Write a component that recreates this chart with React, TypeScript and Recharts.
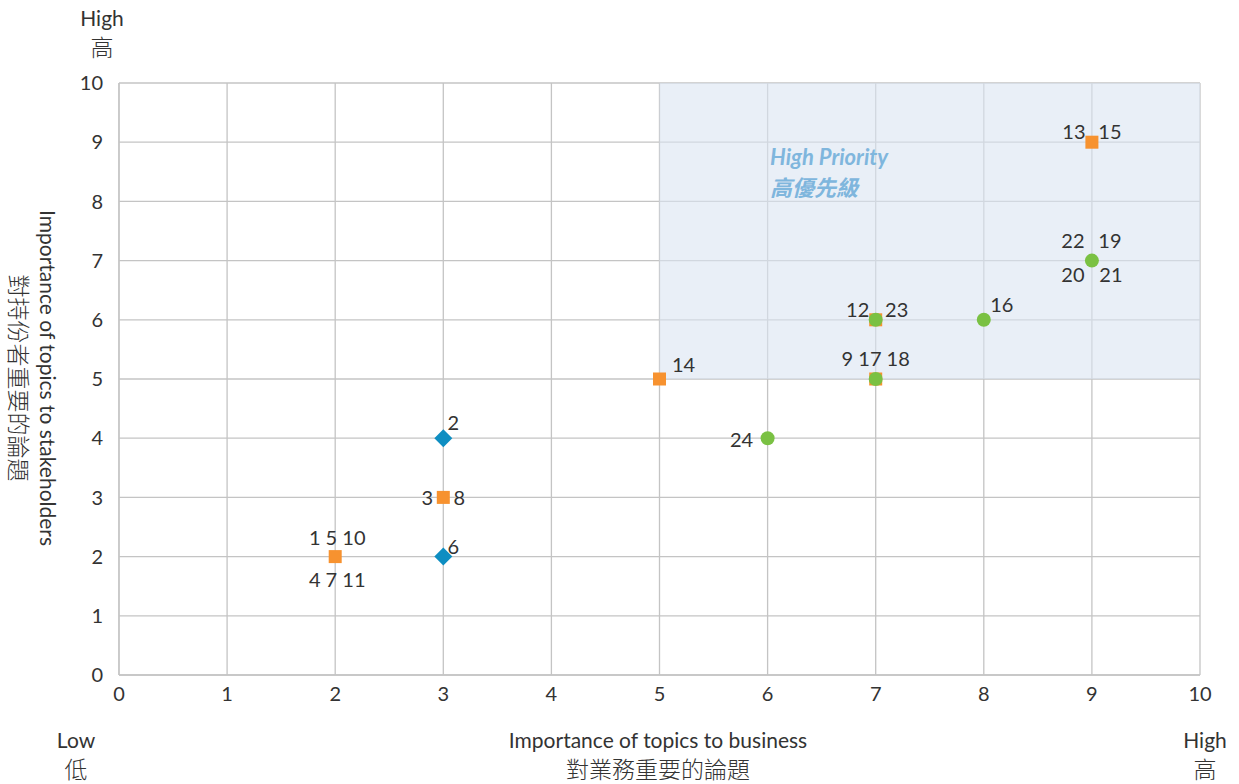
import React from 'react';
import {
  ScatterChart,
  Scatter,
  XAxis,
  YAxis,
  CartesianGrid,
  ReferenceArea,
} from 'recharts';

// axis ticks
const xTicks = [0, 1, 2, 3, 4, 5, 6, 7, 8, 9, 10];
const yTicks = [0, 1, 2, 3, 4, 5, 6, 7, 8, 9, 10];

// blue diamonds
const blueX = [3, 3];
const blueY = [4, 2];
const blueLabels = [['2'], ['6']];

// orange squares
const orangeX = [2, 3, 5, 9, 7, 7];
const orangeY = [2, 3, 5, 9, 6, 5];
const orangeLabels = [['1 5 10', '4 7 11'], ['3', '8'], ['14'], ['13', '15'], [], []];

// green circles
const greenX = [6, 7, 7, 8, 9];
const greenY = [4, 5, 6, 6, 7];
const greenLabels = [['24'], ['9 17 18'], ['12', '23'], ['16'], ['22', '19', '20', '21']];

// high priority zone
const zoneX = [5, 10];
const zoneY = [5, 10];

// where each label sits relative to its marker (center offsets)
const labelOffset: Record<string, [number, number]> = {
  '2': [10, -16],
  '6': [10, -11],
  '3': [-16, 0],
  '8': [16, 0],
  '1 5 10': [2, -20],
  '4 7 11': [2, 22],
  '14': [24, -15],
  '13': [-18, -11],
  '15': [18, -11],
  '12': [-18, -11],
  '23': [21, -11],
  '9 17 18': [0, -21],
  '16': [18, -16],
  '22': [-19, -21],
  '19': [18, -21],
  '20': [-19, 13],
  '21': [19, 13],
  '24': [-26, 1],
};

const build = (xs: number[], ys: number[], labels: string[][]) =>
  xs.map((x, i) => ({ x, y: ys[i], labels: labels[i] }));

const blueData = build(blueX, blueY, blueLabels);
const orangeData = build(orangeX, orangeY, orangeLabels);
const greenData = build(greenX, greenY, greenLabels);

const FONT = 'Lato, "Noto Sans CJK TC", sans-serif';
const CJK = '"Noto Sans CJK TC", sans-serif';
const TEXT = '#333333';

const Labels = ({ cx, cy, labels }: any) => (
  <>
    {(labels || []).map((t: string) => {
      const off = labelOffset[t] || [0, -16];
      return (
        <text
          key={t}
          x={cx + off[0]}
          y={cy + off[1]}
          textAnchor="middle"
          dominantBaseline="central"
          fontSize={20}
          fill={TEXT}
          fontFamily={FONT}
        >
          {t}
        </text>
      );
    })}
  </>
);

const diamondShape = (props: any) => {
  const { cx, cy, payload } = props;
  const r = 9;
  return (
    <g>
      <path d={`M${cx},${cy - r}L${cx + r},${cy}L${cx},${cy + r}L${cx - r},${cy}Z`} fill="#0e8ec2" />
      <Labels cx={cx} cy={cy} labels={payload.labels} />
    </g>
  );
};

const squareShape = (props: any) => {
  const { cx, cy, payload } = props;
  const s = 13;
  return (
    <g>
      <rect x={cx - s / 2} y={cy - s / 2} width={s} height={s} fill="#f7922f" />
      <Labels cx={cx} cy={cy} labels={payload.labels} />
    </g>
  );
};

const circleShape = (props: any) => {
  const { cx, cy, payload } = props;
  return (
    <g>
      <circle cx={cx} cy={cy} r={7} fill="#7ac143" />
      <Labels cx={cx} cy={cy} labels={payload.labels} />
    </g>
  );
};

const abs = (style: React.CSSProperties): React.CSSProperties => ({
  position: 'absolute',
  fontFamily: FONT,
  fontSize: 21,
  color: TEXT,
  textAlign: 'center',
  lineHeight: '29px',
  whiteSpace: 'nowrap',
  ...style,
});

const Cjk = ({ children, size = 23 }: any) => (
  <span style={{ fontFamily: CJK, fontSize: size, fontWeight: 300 }}>{children}</span>
);

export default function App() {
  return (
    <div style={{ position: 'absolute', left: 0, top: 0, width: 1239, height: 784, background: '#fff' }}>
      <ScatterChart
        width={1239}
        height={784}
        margin={{ top: 83, right: 39, bottom: 69, left: 79 }}
        style={{ fontFamily: FONT }}
      >
        <ReferenceArea
          x1={zoneX[0]}
          x2={zoneX[1]}
          y1={zoneY[0]}
          y2={zoneY[1]}
          fill="#dbe5f1"
          fillOpacity={0.6}
          stroke="none"
          ifOverflow="visible"
        />
        <CartesianGrid stroke="#c4c4c4" strokeWidth={1.3} horizontalValues={yTicks} verticalValues={xTicks} />
        <XAxis
          type="number"
          dataKey="x"
          domain={[0, 10]}
          ticks={xTicks}
          interval={0}
          tickLine={false}
          axisLine={{ stroke: '#c4c4c4', strokeWidth: 1.3 }}
          tick={{ fill: TEXT, fontSize: 20, fontFamily: FONT }}
          tickMargin={6}
          height={40}
        />
        <YAxis
          type="number"
          dataKey="y"
          domain={[0, 10]}
          ticks={yTicks}
          interval={0}
          tickLine={false}
          axisLine={{ stroke: '#c4c4c4', strokeWidth: 1.3 }}
          tick={{ fill: TEXT, fontSize: 20, fontFamily: FONT }}
          tickMargin={10}
          width={40}
        />
        <Scatter data={orangeData} shape={squareShape} isAnimationActive={false} />
        <Scatter data={blueData} shape={diamondShape} isAnimationActive={false} />
        <Scatter data={greenData} shape={circleShape} isAnimationActive={false} />
      </ScatterChart>

      <div
        style={abs({
          left: 770,
          top: 146,
          textAlign: 'left',
          color: '#7fb6dd',
          fontWeight: 700,
          fontStyle: 'italic',
          fontSize: 22,
          lineHeight: '22px',
        })}
      >
        High Priority
      </div>
      <div
        style={abs({
          left: 770,
          top: 175,
          textAlign: 'left',
          color: '#7fb6dd',
          fontFamily: CJK,
          fontWeight: 700,
          fontStyle: 'italic',
          fontSize: 22,
          lineHeight: '22px',
        })}
      >
        高優先級
      </div>

      <div style={abs({ left: 62, width: 80, top: 3 })}>
        High
        <br />
        <Cjk>高</Cjk>
      </div>
      <div style={abs({ left: 36, width: 80, top: 725 })}>
        Low
        <br />
        <Cjk>低</Cjk>
      </div>
      <div style={abs({ left: 408, width: 500, top: 725 })}>
        Importance of topics to business
        <br />
        <Cjk>對業務重要的論題</Cjk>
      </div>
      <div style={abs({ left: 1155, width: 100, top: 725 })}>
        High
        <br />
        <Cjk>高</Cjk>
      </div>
      <div
        style={abs({
          left: 34 - 250,
          width: 500,
          top: 378 - 29,
          transform: 'rotate(90deg)',
          transformOrigin: '250px 29px',
        })}
      >
        Importance of topics to stakeholders
        <br />
        <Cjk>對持份者重要的論題</Cjk>
      </div>
    </div>
  );
}
